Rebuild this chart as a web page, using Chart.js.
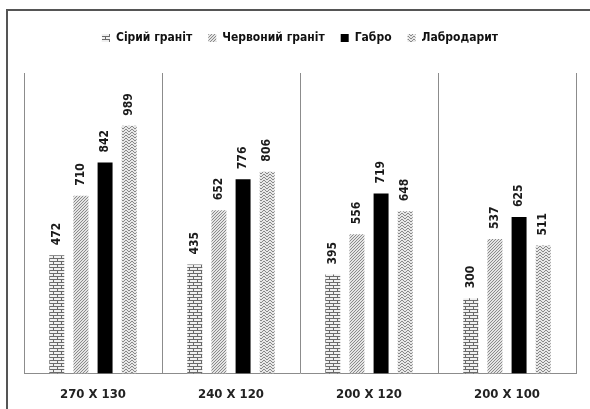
<!DOCTYPE html>
<html>
<head>
<meta charset="utf-8">
<script src="https://cdn.jsdelivr.net/npm/chart.js@4.4.1/dist/chart.umd.min.js"></script>
<style>
    html, body { margin: 0; padding: 0; background: #fff; }
    #wrap { width: 590px; height: 409px; position: relative; }
</style>
</head>
<body>
<div id="wrap"><canvas id="chart" width="590" height="409"></canvas></div>
<script>
// Data
const categories = ['270 X 130', '240 X 120', '200 X 120', '200 X 100'];
const seriesNames = ['Сірий граніт', 'Червоний граніт', 'Габро', 'Лабродарит'];
const greyGranite = [472, 435, 395, 300];
const redGranite = [710, 652, 556, 537];
const gabbro = [842, 776, 719, 625];
const labradorite = [989, 806, 648, 511];

const FONT = '"Liberation Sans Narrow", "DejaVu Sans Condensed", sans-serif';

// Fill patterns
function makePattern(w, h, draw) {
    const c = document.createElement('canvas');
    c.width = w; c.height = h;
    const g = c.getContext('2d');
    draw(g);
    return g.createPattern(c, 'repeat');
}

const brick = makePattern(8, 6, g => {
    g.fillStyle = '#f0f0f0';
    g.fillRect(0, 0, 8, 6);
    g.fillStyle = '#6a6a6a';
    g.fillRect(0, 0, 8, 1);
    g.fillRect(0, 3, 8, 1);
    g.fillRect(1, 0, 1, 3);
    g.fillRect(5, 3, 1, 3);
});

const stripes = makePattern(3, 3, g => {
    g.fillStyle = '#e4e4e4';
    g.fillRect(0, 0, 3, 3);
    g.fillStyle = '#8a8a8a';
    for (let i = 0; i < 3; i++) g.fillRect(i, 2 - i, 1, 1);
});

const zigzag = makePattern(6, 3, g => {
    g.fillStyle = '#e8e8e8';
    g.fillRect(0, 0, 6, 3);
    g.fillStyle = '#888888';
    g.fillRect(0, 0, 1, 1); g.fillRect(1, 1, 1, 1); g.fillRect(2, 2, 1, 1);
    g.fillRect(3, 2, 1, 1); g.fillRect(4, 1, 1, 1); g.fillRect(5, 0, 1, 1);
});

// Extra space under the legend
const legendGap = {
    id: 'legendGap',
    beforeInit(chart) {
        const fit = chart.legend.fit;
        chart.legend.fit = function () {
            fit.bind(chart.legend)();
            this.height += 19;
        };
    }
};

// Rotated value labels above bars
const valueLabels = {
    id: 'valueLabels',
    afterDatasetsDraw(chart) {
        const ctx = chart.ctx;
        ctx.save();
        ctx.font = 'bold 12px ' + FONT;
        ctx.fillStyle = '#1a1a1a';
        ctx.textAlign = 'left';
        ctx.textBaseline = 'middle';
        chart.data.datasets.forEach((ds, i) => {
            chart.getDatasetMeta(i).data.forEach((bar, j) => {
                ctx.save();
                ctx.translate(bar.x, bar.y - 10);
                ctx.rotate(-Math.PI / 2);
                ctx.fillText(String(ds.data[j]), 0, 0);
                ctx.restore();
            });
        });
        ctx.restore();
    }
};

// Outer frame (cropped at right and bottom)
const frame = {
    id: 'frame',
    beforeDraw(chart) {
        const ctx = chart.ctx;
        ctx.save();
        ctx.strokeStyle = '#555';
        ctx.lineWidth = 2;
        ctx.beginPath();
        ctx.moveTo(7, 412);
        ctx.lineTo(7, 10);
        ctx.lineTo(592, 10);
        ctx.stroke();
        ctx.restore();
    }
};

new Chart(document.getElementById('chart').getContext('2d'), {
    type: 'bar',
    data: {
        labels: categories,
        datasets: [
            { label: seriesNames[0], data: greyGranite, backgroundColor: brick },
            { label: seriesNames[1], data: redGranite, backgroundColor: stripes },
            { label: seriesNames[2], data: gabbro, backgroundColor: '#000' },
            { label: seriesNames[3], data: labradorite, backgroundColor: zigzag }
        ]
    },
    options: {
        responsive: false,
        animation: false,
        categoryPercentage: 0.7,
        barPercentage: 0.62,
        layout: { padding: { left: 24, right: 14, top: 16, bottom: -6 } },
        plugins: {
            legend: {
                position: 'top',
                labels: {
                    boxWidth: 8,
                    boxHeight: 8,
                    padding: 16,
                    color: '#111',
                    font: { family: FONT, size: 12, weight: 'bold' }
                }
            },
            tooltip: { enabled: false }
        },
        scales: {
            x: {
                grid: { offset: true, color: '#8c8c8c', drawTicks: false },
                border: { color: '#8c8c8c' },
                ticks: {
                    color: '#222',
                    padding: 13,
                    font: { family: FONT, size: 13, weight: 'bold' }
                }
            },
            y: {
                display: false,
                min: 0,
                max: 1200
            }
        }
    },
    plugins: [frame, legendGap, valueLabels]
});
</script>
</body>
</html>
